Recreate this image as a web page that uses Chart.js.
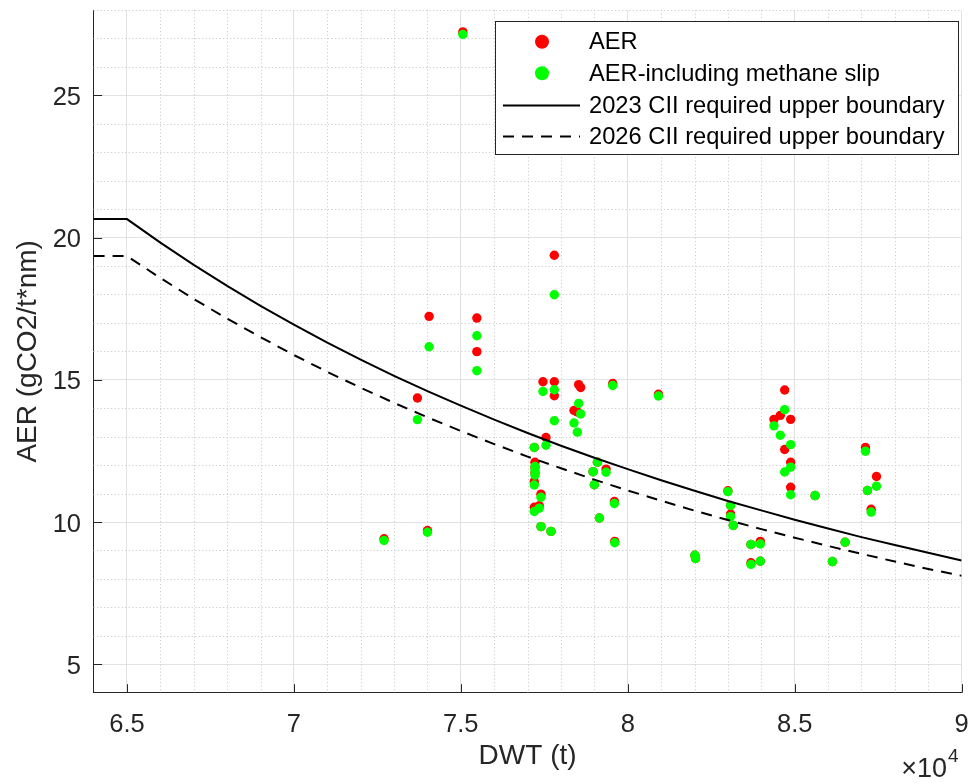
<!DOCTYPE html>
<html>
<head>
<meta charset="utf-8">
<title>AER vs DWT</title>
<script src="https://cdn.jsdelivr.net/npm/chart.js@4/dist/chart.umd.min.js"></script>
<style>
  html, body { margin: 0; padding: 0; background: #ffffff; }
  canvas { display: block; }
</style>
</head>
<body>
<canvas id="chart" width="971" height="783"></canvas>
<script>
// Ship deadweight (t) with attained AER and AER including methane slip (gCO2/t*nm)
const dwt = [
  72700, 74000, 73700, 74050, 75060, 75480, 75480,
  77550, 77200, 77220, 77220, 77220, 77200, 77400, 77350, 77200, 77400, 77700,
  77460, 77800, 77800, 77800,
  78530, 78590, 78390, 78490,
  79090, 79350, 78960, 79000, 79150,
  79550, 79600, 79610, 80920,
  82010, 82030, 83000, 83080, 83080, 83160,
  83690, 83970, 83690, 83970,
  84380, 84570, 84700, 84700, 84880, 84880, 84880,
  85610, 86130, 86510,
  87120, 87450, 87180, 87290
];
const aer = [
  9.41, 9.70, 14.36, 17.23, 27.23, 17.17, 15.99,
  12.97, 12.62, 12.10, 11.92, 11.72, 11.42, 10.98, 10.57, 10.52, 9.84, 9.67,
  14.93, 19.38, 14.93, 14.44,
  14.83, 14.73, 13.92, 13.87,
  12.10, 11.86, 11.77, 11.31, 10.14,
  14.87, 10.72, 9.32, 14.49,
  8.83, 8.72, 11.10, 10.58, 10.28, 9.88,
  9.21, 9.32, 8.57, 8.62,
  13.61, 13.75, 14.64, 12.55, 13.61, 12.10, 11.22,
  10.93, 8.61, 9.29,
  12.62, 11.60, 11.11, 10.45
];
const aerSlip = [
  9.35, 9.64, 13.60, 16.16, 27.14, 16.55, 15.32,
  12.70, 12.62, 11.95, 11.80, 11.65, 11.30, 10.87, 10.49, 10.37, 9.84, 9.67,
  14.59, 17.99, 14.65, 13.56,
  14.17, 13.80, 13.48, 13.16,
  12.10, 11.75, 11.77, 11.31, 10.14,
  14.80, 10.65, 9.27, 14.43,
  8.83, 8.72, 11.07, 10.58, 10.19, 9.88,
  9.21, 9.23, 8.51, 8.62,
  13.38, 13.05, 13.95, 11.76, 12.72, 11.93, 10.96,
  10.93, 8.61, 9.29,
  12.49, 11.26, 11.11, 10.35
];

// CII required upper boundaries (gCO2/t*nm) against DWT (t)
const boundaryDwt = [
  64000, 65000, 66000, 67000, 68000, 69000, 70000, 71000, 72000, 73000,
  74000, 75000, 76000, 77000, 78000, 79000, 80000, 81000, 82000, 83000,
  84000, 85000, 86000, 87000, 88000, 89000, 90000
];
const cii2023 = [
  20.65, 20.65, 19.82, 19.04, 18.30, 17.60, 16.94, 16.31, 15.71, 15.14,
  14.60, 14.09, 13.60, 13.13, 12.68, 12.26, 11.86, 11.47, 11.10, 10.74,
  10.41, 10.08, 9.77, 9.47, 9.19, 8.92, 8.65
];
const cii2026 = [
  19.35, 19.35, 18.58, 17.84, 17.15, 16.50, 15.87, 15.28, 14.72, 14.19,
  13.68, 13.20, 12.74, 12.30, 11.89, 11.49, 11.11, 10.75, 10.40, 10.07,
  9.75, 9.45, 9.16, 8.88, 8.61, 8.35, 8.11
];

// Axis ticks
const xTicks = [65000, 70000, 75000, 80000, 85000, 90000];
const yTicks = [5, 10, 15, 20, 25];
const xMinorStep = 1000;
const yMinorStep = 1;

const FONT = "'Liberation Sans', Arial, Helvetica, sans-serif";
const AXIS_COLOR = '#262626';

// Keep the plot area exactly where the layout puts it
function noLabelPadding(s) {
  s.paddingTop = 0; s.paddingBottom = 0; s.paddingLeft = 0; s.paddingRight = 0;
}

// Dotted minor grid and inward tick marks
const minorGrid = {
  id: 'minorGrid',
  beforeDatasetsDraw(chart) {
    const { ctx, chartArea: a, scales: { x, y } } = chart;
    ctx.save();
    ctx.strokeStyle = '#cdcdcd';
    ctx.lineWidth = 1;
    ctx.setLineDash([1.2, 2.3]);
    for (let v = x.min; v <= x.max; v += xMinorStep) {
      if (xTicks.includes(v) || v === x.min) continue;
      const px = Math.round(x.getPixelForValue(v)) + 0.5;
      ctx.beginPath(); ctx.moveTo(px, a.top); ctx.lineTo(px, a.bottom); ctx.stroke();
    }
    for (let v = y.min; v <= y.max; v += yMinorStep) {
      if (yTicks.includes(v) || v === y.min) continue;
      const py = Math.round(y.getPixelForValue(v)) + 0.5;
      ctx.beginPath(); ctx.moveTo(a.left, py); ctx.lineTo(a.right, py); ctx.stroke();
    }
    ctx.setLineDash([]);
    ctx.strokeStyle = AXIS_COLOR;
    ctx.lineWidth = 1;
    const len = 8.5;
    xTicks.forEach(v => {
      const px = Math.round(x.getPixelForValue(v)) + 0.5;
      ctx.beginPath(); ctx.moveTo(px, a.bottom); ctx.lineTo(px, a.bottom - len); ctx.stroke();
    });
    yTicks.forEach(v => {
      const py = Math.round(y.getPixelForValue(v)) + 0.5;
      ctx.beginPath(); ctx.moveTo(a.left, py); ctx.lineTo(a.left + len, py); ctx.stroke();
    });
    ctx.restore();
  }
};

// Boxed legend inside the plot and the x-axis exponent label
const boxLegend = {
  id: 'boxLegend',
  afterDraw(chart) {
    const { ctx } = chart;
    const ds = chart.data.datasets;
    ctx.save();
    const bx = 495.5, by = 21.5, bw = 463, bh = 133;
    ctx.fillStyle = '#ffffff';
    ctx.fillRect(bx, by, bw, bh);
    ctx.strokeStyle = AXIS_COLOR;
    ctx.lineWidth = 1;
    ctx.strokeRect(bx, by, bw, bh);
    const rows = [41.7, 73.3, 105.5, 136.5];
    ds.forEach((d, i) => {
      const ry = rows[i];
      if (d.showLine) {
        ctx.strokeStyle = d.borderColor;
        ctx.lineWidth = d.borderWidth;
        ctx.setLineDash(d.borderDash || []);
        ctx.beginPath(); ctx.moveTo(503, ry); ctx.lineTo(580, ry); ctx.stroke();
        ctx.setLineDash([]);
      } else {
        ctx.fillStyle = d.backgroundColor;
        ctx.beginPath(); ctx.arc(542, ry, 7, 0, Math.PI * 2); ctx.fill();
      }
      ctx.fillStyle = '#000000';
      ctx.font = `23.7px ${FONT}`;
      ctx.textAlign = 'left';
      ctx.textBaseline = 'middle';
      ctx.fillText(d.label, 589, ry + 1);
    });
    // x10^4 multiplier
    ctx.fillStyle = AXIS_COLOR;
    ctx.textBaseline = 'alphabetic';
    ctx.textAlign = 'right';
    ctx.font = `27px ${FONT}`;
    ctx.fillText('\u00d710', 947, 777);
    ctx.textAlign = 'left';
    ctx.font = `19px ${FONT}`;
    ctx.fillText('4', 948, 762);
    ctx.restore();
  }
};

const toPoints = (xs, ys) => xs.map((v, i) => ({ x: v, y: ys[i] }));

new Chart(document.getElementById('chart'), {
  type: 'scatter',
  data: {
    datasets: [
      {
        label: 'AER',
        data: toPoints(dwt, aer),
        backgroundColor: '#ff0000',
        borderWidth: 0,
        pointRadius: 4.7,
        pointHoverRadius: 4.7,
        order: 4
      },
      {
        label: 'AER-including methane slip',
        data: toPoints(dwt, aerSlip),
        backgroundColor: '#00ff00',
        borderWidth: 0,
        pointRadius: 4.7,
        pointHoverRadius: 4.7,
        order: 3
      },
      {
        label: '2023 CII required upper boundary',
        data: toPoints(boundaryDwt, cii2023),
        showLine: true,
        fill: false,
        borderColor: '#000000',
        borderWidth: 2,
        pointRadius: 0,
        tension: 0,
        order: 2
      },
      {
        label: '2026 CII required upper boundary',
        data: toPoints(boundaryDwt, cii2026),
        showLine: true,
        fill: false,
        borderColor: '#000000',
        borderWidth: 2,
        borderDash: [11, 8],
        pointRadius: 0,
        tension: 0,
        order: 1
      }
    ]
  },
  options: {
    responsive: false,
    animation: false,
    devicePixelRatio: 1,
    layout: { padding: { top: 10, right: 9.4, left: 0, bottom: 0 } },
    plugins: { legend: { display: false }, tooltip: { enabled: false } },
    scales: {
      x: {
        type: 'linear',
        min: 64000,
        max: 90000,
        afterBuildTicks: s => { s.ticks = xTicks.map(v => ({ value: v })); },
        afterFit: s => { s.height = 90.3; noLabelPadding(s); },
        grid: { color: '#e2e2e2', lineWidth: 1, drawTicks: false },
        border: { color: AXIS_COLOR, width: 1 },
        ticks: {
          padding: 17,
          color: AXIS_COLOR,
          font: { family: FONT, size: 25.5 },
          maxRotation: 0,
          callback: v => String(v / 10000)
        },
        title: {
          display: true,
          text: 'DWT (t)',
          color: AXIS_COLOR,
          font: { family: FONT, size: 28 },
          padding: { top: 0, bottom: 10 }
        }
      },
      y: {
        type: 'linear',
        min: 4,
        max: 28,
        afterBuildTicks: s => { s.ticks = yTicks.map(v => ({ value: v })); },
        afterFit: s => { s.width = 93.6; noLabelPadding(s); },
        grid: { color: '#e2e2e2', lineWidth: 1, drawTicks: false },
        border: { color: AXIS_COLOR, width: 1 },
        ticks: {
          padding: 12.6,
          color: AXIS_COLOR,
          font: { family: FONT, size: 25.5 },
          labelOffset: 2.5
        },
        title: {
          display: true,
          text: 'AER (gCO2/t*nm)',
          color: AXIS_COLOR,
          font: { family: FONT, size: 28 },
          padding: { top: 11, bottom: 0 }
        }
      }
    }
  },
  plugins: [minorGrid, boxLegend]
});
</script>
</body>
</html>
